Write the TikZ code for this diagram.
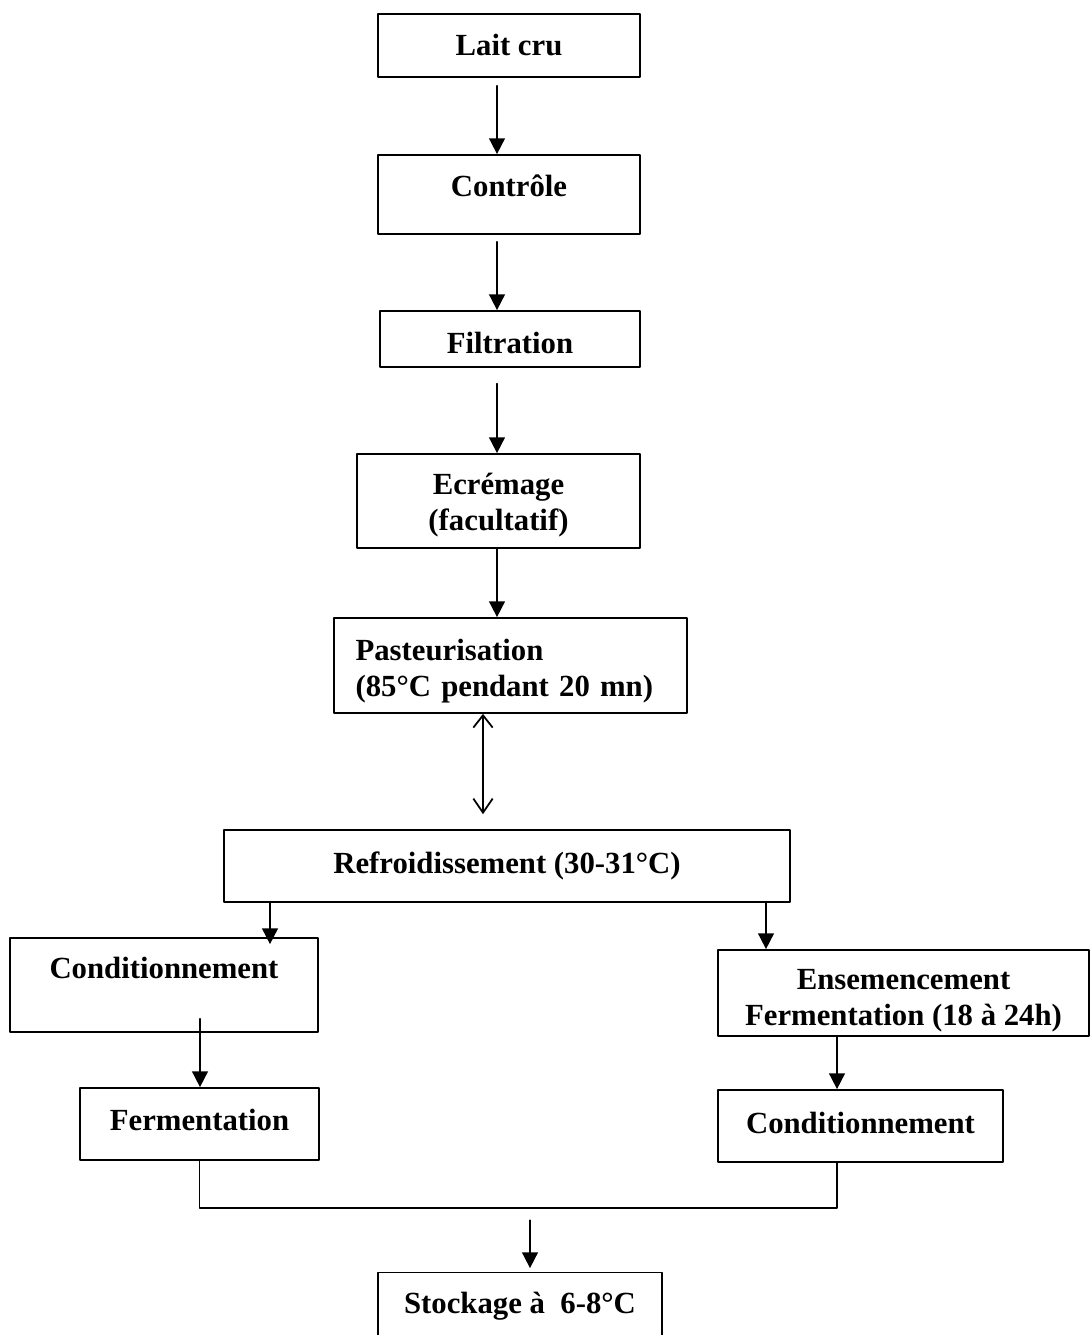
\documentclass[tikz,border=0pt]{standalone}
\usepackage{fontspec}
\setmainfont{Liberation Serif}
\usetikzlibrary{arrows.meta}
\begin{document}
\begin{tikzpicture}[x=0.02cm,y=-0.02cm,line join=round,line cap=round,line width=1pt,
	font=\fontsize{17.5}{20.5}\selectfont\bfseries,
	>={Triangle[length=9pt,width=9pt]},
	etape/.style={draw,rectangle,inner sep=0pt,align=center},
	barbe/.style={{Straight Barb[length=7pt,width=11pt]}-{Straight Barb[length=8pt,width=11pt]}}]
	\useasboundingbox (0,0) rectangle (1091,1335);
	% etapes
	\node[etape,minimum width=5.24cm,minimum height=1.26cm] (lait) at (509,45.5) {Lait cru};
	\node[etape,minimum width=5.24cm,minimum height=1.58cm,text depth=10pt] (controle) at (509,194.5) {Contrôle};
	\node[etape,minimum width=5.2cm,minimum height=1.12cm,text height=16pt,text depth=0pt] (filtration) at (510,339) {Filtration};
	\node[etape,minimum width=5.66cm,minimum height=1.88cm,text height=43.7pt,text depth=9.7pt] (ecremage) at (498.5,501) {Ecrémage\\(facultatif)};
	\node[etape,minimum width=7.06cm,minimum height=1.9cm,text width=6.2cm,align=left,text height=23.9pt,text depth=30.1pt] (pasteur) at (510.5,665.5) {Pasteurisation\\(85°C pendant 20 mn)};
	\node[etape,minimum width=11.32cm,minimum height=1.44cm] (refroid) at (507,866) {Refroidissement (30-31°C)};
	\node[etape,minimum width=6.16cm,minimum height=1.88cm,text height=18pt,text depth=25pt] (condA) at (164,985) {Conditionnement};
	\node[etape,minimum width=7.42cm,minimum height=1.72cm,text height=43.2pt,text depth=5.7pt] (ensem) at (903.5,993) {Ensemencement\\Fermentation (18 à 24h)};
	\node[etape,minimum width=4.78cm,minimum height=1.44cm,text depth=4.5pt] (fermA) at (199.5,1124) {Fermentation};
	\node[etape,minimum width=5.7cm,minimum height=1.44cm,text depth=3.5pt] (condB) at (860.5,1126) {Conditionnement};
	\node[etape,minimum width=5.68cm,minimum height=1.34cm] (stock) at (520,1306) {Stockage à~~6-8°C};
	% fleches
	\coordinate (axe) at (497,0);
	\draw[->,shorten <=4.5pt] (lait.south -| axe) -- (controle.north -| axe);
	\draw[->,shorten <=4pt] (controle.south -| axe) -- (filtration.north -| axe);
	\draw[->,shorten <=9pt] (filtration.south -| axe) -- (ecremage.north -| axe);
	\draw[->] (ecremage.south -| axe) -- (pasteur.north -| axe);
	\coordinate (axe) at (483,0);
	\draw[barbe,shorten >=8.5pt] (pasteur.south -| axe) -- (refroid.north -| axe);
	\coordinate (axe) at (270,0);
	\draw[->] (refroid.south -| axe) -- ([yshift=-4pt]condA.north -| axe);
	\coordinate (axe) at (766,0);
	\draw[->] (refroid.south -| axe) -- (ensem.north -| axe);
	\coordinate (axe) at (200,0);
	\draw[->,shorten <=-8pt] (condA.south -| axe) -- (fermA.north -| axe);
	\coordinate (axe) at (837,0);
	\draw[->] (ensem.south -| axe) -- (condB.north -| axe);
	% jonction
	\coordinate (jonction) at (530,1208);
	\draw (fermA.south) |- (jonction) -| (condB.south -| axe);
	\draw[->,shorten <=7pt,shorten >=2pt] (jonction) -- (stock.north -| jonction);
\end{tikzpicture}
\end{document}
